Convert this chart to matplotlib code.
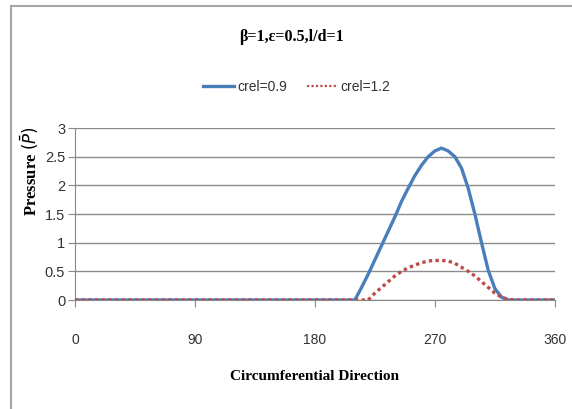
import matplotlib
matplotlib.use('Agg')
import matplotlib.pyplot as plt
from matplotlib.lines import Line2D

# circumferential angle (deg) and pressure for the two clearance ratios
theta = [0, 30, 60, 90, 120, 150, 180, 200, 210, 215, 220, 225, 230, 235, 240, 245, 250, 255,
         260, 265, 270, 275, 280, 285, 290, 295, 300, 305, 310, 315, 320, 325, 330, 340, 350, 360]
p_09 = [0, 0, 0, 0, 0, 0, 0, 0, 0.0, 0.22, 0.45, 0.7, 0.95, 1.2, 1.45, 1.72, 1.95, 2.17,
        2.35, 2.5, 2.6, 2.65, 2.6, 2.5, 2.3, 1.95, 1.5, 1.0, 0.52, 0.2, 0.05, 0.0, 0, 0, 0, 0]
p_12 = [0, 0, 0, 0, 0, 0, 0, 0, 0, 0, 0.0, 0.12, 0.22, 0.32, 0.42, 0.5, 0.56, 0.61,
        0.65, 0.68, 0.69, 0.69, 0.68, 0.64, 0.57, 0.5, 0.42, 0.32, 0.22, 0.12, 0.05, 0.01, 0, 0, 0, 0]

xticks = [0, 90, 180, 270, 360]
yticks = [0, 0.5, 1, 1.5, 2, 2.5, 3]

sans = ['Liberation Sans', 'DejaVu Sans']
serif = ['Liberation Serif', 'DejaVu Serif']

fig = plt.figure(figsize=(5.72, 4.09), dpi=100)
ax = fig.add_axes([0.131, 0.2665, 0.839, 0.4205])

ax.plot(theta, p_09, color='#4A7EBB', lw=2.4, zorder=3)
ax.plot(theta, p_12, color='#BE4B48', lw=2.4, ls=(0, (1, 1)), zorder=3)

ax.set_xlim(0, 360)
ax.set_ylim(0, 3)
ax.set_xticks(xticks)
ax.set_yticks(yticks)
ax.set_xticklabels([str(t) for t in xticks], family=sans, fontsize=10, color='#333333')
ax.set_yticklabels(['0', '0.5', '1', '1.5', '2', '2.5', '3'], family=sans, fontsize=10.5, color='#333333')
ax.tick_params(axis='x', length=5, direction='out', color='#888888', pad=19)
ax.tick_params(axis='y', length=5, direction='out', color='#888888', pad=2)
ax.yaxis.grid(True, color='#8C8C8C', lw=1)
ax.set_axisbelow(True)
for s in ['top', 'right']:
    ax.spines[s].set_visible(False)
ax.spines['left'].set_color('#888888')
ax.spines['bottom'].set_color('#888888')

ax.set_xlabel('Circumferential Direction', family=serif, fontweight='bold', fontsize=11, labelpad=16)
ax.set_ylabel(r'Pressure $(\bar{P})$', family=serif, fontweight='bold', fontsize=12)
ax.yaxis.set_label_coords(-0.07, 0.75)

fig.text(0.509, 0.91, 'β=1,ε=0.5,l/d=1', family=serif, fontweight='bold', fontsize=11.5,
         ha='center', va='center')

handles = [Line2D([], [], color='#4A7EBB', lw=2.4),
           Line2D([], [], color='#BE4B48', lw=1.6, ls=(0, (1, 1)))]
fig.legend(handles, ['crel=0.9', 'crel=1.2'], loc='center', bbox_to_anchor=(0.519, 0.787),
           ncol=2, frameon=False, prop={'family': sans, 'size': 10},
           handlelength=2.2, columnspacing=1.4, handletextpad=0.25, labelcolor='#333333')

# partial frame (top and left only)
fig.add_artist(Line2D([0.019, 1.0], [0.985, 0.985], transform=fig.transFigure, color='#A6A6A6', lw=1.5))
fig.add_artist(Line2D([0.019, 0.019], [0.0, 0.985], transform=fig.transFigure, color='#A6A6A6', lw=1.5))

fig.savefig('out.png', dpi=100)
